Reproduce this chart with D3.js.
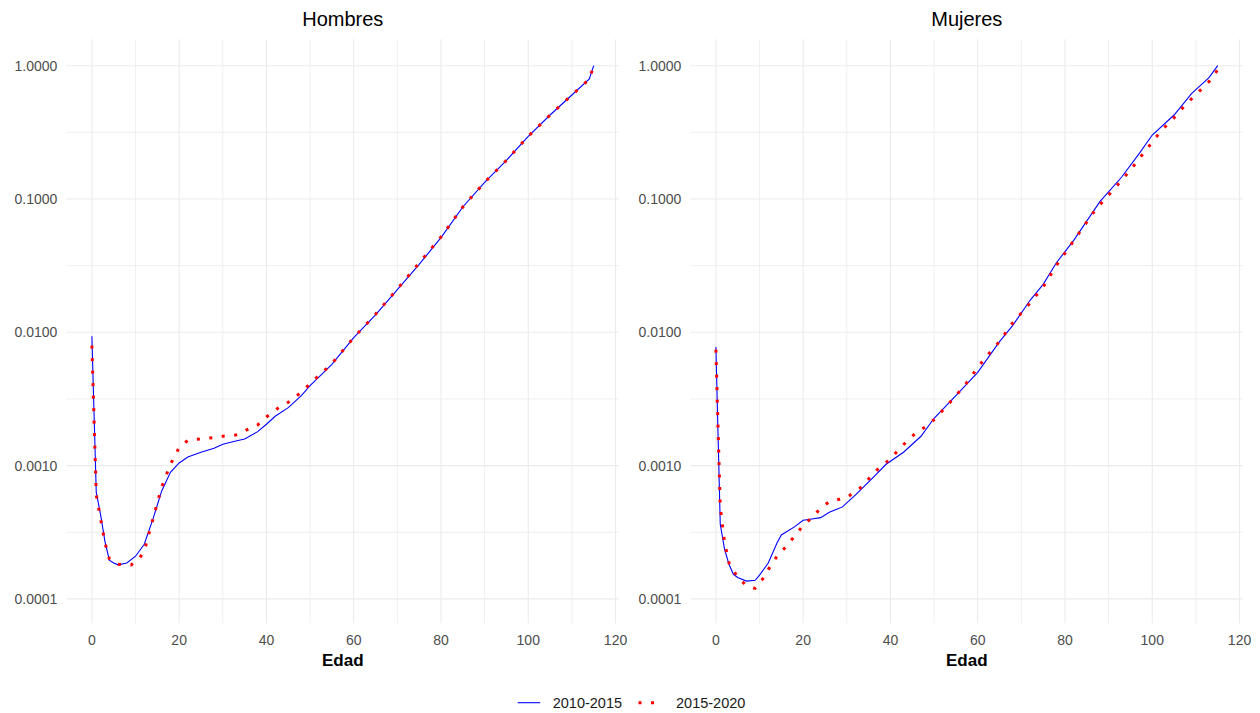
<!DOCTYPE html>
<html>
<head>
<meta charset="utf-8">
<script src="https://cdn.jsdelivr.net/npm/d3@7"></script>
<style>
  body { margin: 0; background: #fff; }
  text { font-family: Arial, "Liberation Sans", sans-serif; }
</style>
</head>
<body>
<div id="chart"></div>
<script>
// tasas de mortalidad por edad
const hombres1015Edad = [0,1,2,3,4,5,6,8,10,12,14,16,18,20,22,25,28,30,33,35,38,40,42,45,48,50,55,60,65,70,75,80,85,90,95,100,105,110,114,115];
const hombres1015Tasa = [0.00933,0.000631,0.000427,0.000269,0.000195,0.000186,0.000180,0.000186,0.000209,0.000257,0.000398,0.000646,0.000891,0.001047,0.001161,0.001259,0.001349,0.001445,0.001531,0.001585,0.001799,0.002042,0.002344,0.002723,0.003350,0.003981,0.005754,0.009120,0.01349,0.02089,0.03236,0.05129,0.08710,0.1334,0.1950,0.2951,0.4266,0.6026,0.7943,1.0];

const hombres1520Edad = [0,1,2,3,4,5,6,8,9,10,11,12,14,16,18,20,22,25,28,30,33,35,38,40,43,45,48,50,55,60,65,70,75,80,85,90,95,100,105,110,114,115];
const hombres1520Tasa = [0.007943,0.000603,0.000398,0.000263,0.000200,0.000186,0.000182,0.000180,0.000180,0.000191,0.000204,0.000229,0.000398,0.000692,0.001023,0.001365,0.001549,0.001585,0.001622,0.001660,0.001698,0.001820,0.002018,0.002317,0.002754,0.002985,0.003548,0.004121,0.005821,0.009120,0.01365,0.02113,0.03311,0.05188,0.08710,0.1334,0.1950,0.2951,0.4266,0.6026,0.7943,1.0];

const mujeres1015Edad = [0,1,2,3,4,5,7,9,10,12,14,15,16,18,20,22,24,26,29,32,36,39,43,47,50,55,60,65,68,72,75,78,82,88,93,97,100,105,109,113,115];
const mujeres1015Tasa = [0.007762,0.000363,0.000234,0.000182,0.000153,0.000145,0.000136,0.000138,0.000151,0.000186,0.000263,0.000302,0.000316,0.000347,0.000389,0.000398,0.000407,0.000447,0.000490,0.000603,0.000813,0.001023,0.001259,0.001660,0.002265,0.003350,0.005012,0.008511,0.01122,0.01738,0.02291,0.03311,0.04898,0.09550,0.1462,0.2188,0.3020,0.4266,0.6166,0.8128,1.0];

const mujeres1520Edad = [0,1,2,3,5,7,9,11,12,14,16,18,20,22,24,26,28,30,33,35,37,40,42,44,46,48,50,53,55,57,60,62,65,68,72,75,78,81,84,87,90,93,96,99,102,105,108,111,113,115];
const mujeres1520Tasa = [0.007413,0.000490,0.000263,0.000186,0.000145,0.000126,0.000120,0.000145,0.000166,0.000209,0.000245,0.000295,0.000355,0.000407,0.000479,0.000537,0.000556,0.000575,0.000676,0.000794,0.000933,0.001122,0.001334,0.001549,0.001778,0.001950,0.002213,0.002818,0.003350,0.003981,0.005433,0.006607,0.008511,0.01175,0.01660,0.02188,0.03162,0.04365,0.06026,0.08318,0.1072,0.1380,0.1820,0.2427,0.3236,0.4074,0.5248,0.6531,0.7586,0.9333];

const periodos = ["2010-2015", "2015-2020"];
const paneles = ["Hombres", "Mujeres"];
const xTicks = [0, 20, 40, 60, 80, 100, 120];
const xMinor = [10, 30, 50, 70, 90, 110];
const yTicks = [0.0001, 0.001, 0.01, 0.1, 1];
const yMinor = [0.0001, 0.001, 0.01, 0.1].map(d => d * Math.sqrt(10));

const seriesPorPanel = {
    "Hombres": [
        { periodo: "2010-2015", edad: hombres1015Edad, tasa: hombres1015Tasa },
        { periodo: "2015-2020", edad: hombres1520Edad, tasa: hombres1520Tasa }
    ],
    "Mujeres": [
        { periodo: "2010-2015", edad: mujeres1015Edad, tasa: mujeres1015Tasa },
        { periodo: "2015-2020", edad: mujeres1520Edad, tasa: mujeres1520Tasa }
    ]
};

// dimensiones
const width = 1260;
const height = 713;
const panelLeft = [66.8, 690.8];
const panelWidth = 552;
const panelTop = 39.3;
const panelBottom = 623.3;

const colorScale = d3.scaleOrdinal().domain(periodos).range(["#0000FF", "#FF0000"]);
const strokeWidth = { "2010-2015": 1.1, "2015-2020": 3 };
const dashes = { "2010-2015": null, "2015-2020": "3,9.5" };

const y = d3.scaleLog()
    .domain([Math.pow(10, -4.183), Math.pow(10, 0.198)])
    .range([panelBottom, panelTop]);

const svg = d3.select("#chart").append("svg")
    .attr("width", width)
    .attr("height", height);

paneles.forEach((panel, p) => {
    const x = d3.scaleLinear()
        .domain([-5.75, 120.75])
        .range([panelLeft[p], panelLeft[p] + panelWidth]);

    const g = svg.append("g").attr("class", "panel");

    // grid
    g.selectAll("line.yminor").data(yMinor).join("line")
        .attr("x1", x.range()[0]).attr("x2", x.range()[1])
        .attr("y1", d => y(d)).attr("y2", d => y(d))
        .attr("stroke", "#EBEBEB").attr("stroke-width", 0.8);
    g.selectAll("line.xminor").data(xMinor).join("line")
        .attr("x1", d => x(d)).attr("x2", d => x(d))
        .attr("y1", panelTop).attr("y2", panelBottom)
        .attr("stroke", "#EBEBEB").attr("stroke-width", 0.8);
    g.selectAll("line.ymajor").data(yTicks).join("line")
        .attr("x1", x.range()[0]).attr("x2", x.range()[1])
        .attr("y1", d => y(d)).attr("y2", d => y(d))
        .attr("stroke", "#EBEBEB").attr("stroke-width", 1.1);
    g.selectAll("line.xmajor").data(xTicks).join("line")
        .attr("x1", d => x(d)).attr("x2", d => x(d))
        .attr("y1", panelTop).attr("y2", panelBottom)
        .attr("stroke", "#EBEBEB").attr("stroke-width", 1.1);

    // tick labels
    g.selectAll("text.ytick").data(yTicks).join("text")
        .attr("x", panelLeft[p] - 9.5)
        .attr("y", d => y(d))
        .attr("dy", "0.36em")
        .attr("text-anchor", "end")
        .attr("font-size", 14)
        .attr("fill", "#4D4D4D")
        .text(d => d3.format(".4f")(d));
    g.selectAll("text.xtick").data(xTicks).join("text")
        .attr("x", d => x(d))
        .attr("y", 645)
        .attr("text-anchor", "middle")
        .attr("font-size", 14)
        .attr("fill", "#4D4D4D")
        .text(d => d);

    // titles
    g.append("text")
        .attr("x", panelLeft[p] + panelWidth / 2)
        .attr("y", 26)
        .attr("text-anchor", "middle")
        .attr("font-size", 20)
        .attr("fill", "#000")
        .text(panel);
    g.append("text")
        .attr("x", panelLeft[p] + panelWidth / 2)
        .attr("y", 666)
        .attr("text-anchor", "middle")
        .attr("font-size", 17)
        .attr("font-weight", "bold")
        .attr("fill", "#000")
        .text("Edad");

    // lines
    const line = d3.line()
        .x(d => x(d[0]))
        .y(d => y(d[1]));

    g.selectAll("path.serie").data(seriesPorPanel[panel]).join("path")
        .attr("class", "serie")
        .attr("d", s => line(d3.zip(s.edad, s.tasa)))
        .attr("fill", "none")
        .attr("stroke", s => colorScale(s.periodo))
        .attr("stroke-width", s => strokeWidth[s.periodo])
        .attr("stroke-dasharray", s => dashes[s.periodo]);
});

// legend
const legendX = [517.7, 638.5];
const legend = svg.selectAll("g.legendG").data(periodos).join("g")
    .attr("class", "legendG")
    .attr("transform", (d, i) => `translate(${legendX[i]},702.7)`);

legend.append("line")
    .attr("x1", 0).attr("x2", 22.5)
    .attr("stroke", d => colorScale(d))
    .attr("stroke-width", d => strokeWidth[d])
    .attr("stroke-dasharray", d => dashes[d]);

legend.append("text")
    .attr("x", (d, i) => i === 0 ? 35 : 37.5)
    .attr("dy", "0.36em")
    .attr("font-size", 14.5)
    .attr("fill", "#1A1A1A")
    .text(d => d);
</script>
</body>
</html>
